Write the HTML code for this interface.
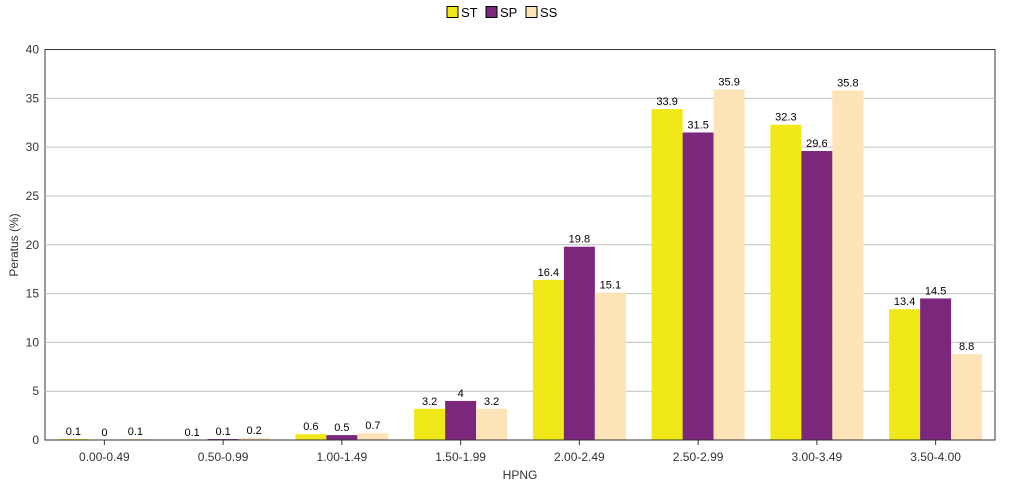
<!DOCTYPE html>
<html><head><meta charset="utf-8"><style>
body{margin:0;background:#fff;font-family:"Liberation Sans",sans-serif;}
</style></head><body>
<svg width="1016" height="488" xmlns="http://www.w3.org/2000/svg" font-family="Liberation Sans, sans-serif" font-size="12">
<g id="legend"></g>
<g id="grid"></g>
<g id="bars"></g>
<g id="axes"></g>
</svg>
<script>
const categories=["0.00-0.49","0.50-0.99","1.00-1.49","1.50-1.99","2.00-2.49","2.50-2.99","3.00-3.49","3.50-4.00"];
const seriesNames=["ST","SP","SS"];
const stValues=[0.1,0,0.6,3.2,16.4,33.9,32.3,13.4];
const spValues=[0,0.1,0.5,4,19.8,31.5,29.6,14.5];
const ssValues=[0.1,0.2,0.7,3.2,15.1,35.9,35.8,8.8];
const stLabels=["0.1","0.1","0.6","3.2","16.4","33.9","32.3","13.4"];
const spLabels=["0","0.1","0.5","4","19.8","31.5","29.6","14.5"];
const ssLabels=["0.1","0.2","0.7","3.2","15.1","35.9","35.8","8.8"];
const yTicks=[0,5,10,15,20,25,30,35,40];
const NS="http://www.w3.org/2000/svg";
const L=45,R=995,T=49.5,B=440,YMAX=40;
const colors=["#f0e818","#7b287c","#fde3b8"];
function y(v){return B-(v/YMAX)*(B-T);}
const cw=(R-L)/categories.length;
function cx(i){return L+cw*(i+0.5);}
function mk(tag,attrs,parent){const e=document.createElementNS(NS,tag);for(const k in attrs)e.setAttribute(k,attrs[k]);parent.appendChild(e);return e;}
const grid=document.getElementById('grid'),bars=document.getElementById('bars'),axes=document.getElementById('axes'),legend=document.getElementById('legend');
mk('rect',{x:L,y:T,width:R-L,height:B-T,fill:'#fff',stroke:'#333','stroke-width':1},grid);
yTicks.forEach(t=>{
 if(t>0&&t<YMAX){const g=mk('line',{x1:L,x2:R,y1:y(t),y2:y(t),stroke:'#c0c0c0'},grid);
 
 }
 const tx=mk('text',{x:L-6,y:y(t)+4,'text-anchor':'end','font-size':12,fill:'#333'},axes);
 tx.textContent=t;
 
 
});
const all=[stValues,spValues,ssValues],labs=[stLabels,spLabels,ssLabels];
const bw=31;
categories.forEach((c,i)=>{
 all.forEach((vals,s)=>{
  const x=cx(i)-bw*1.5+bw*s;
  const r=mk('rect',{x:x,y:y(vals[i]),width:bw,height:B-y(vals[i]),fill:colors[s]},bars);
  
  
  const t=mk('text',{x:x+bw/2,y:y(vals[i])-4,'text-anchor':'middle','font-size':11,fill:'#000'},bars);
  t.textContent=labs[s][i];
  
  
 });
 mk('line',{x1:cx(i),x2:cx(i),y1:B,y2:B+5,stroke:'#333'},axes);
 const t=mk('text',{x:cx(i),y:B+21,'text-anchor':'middle','font-size':12,fill:'#333'},axes);
 t.textContent=c;
 
 
});
mk('line',{x1:L,x2:R,y1:B,y2:B,stroke:'#333'},axes);
const xt=mk('text',{x:(L+R)/2,y:479,'text-anchor':'middle','font-size':12,fill:'#333'},axes);
xt.textContent='HPNG';


const yt=mk('text',{x:0,y:0,'text-anchor':'middle','font-size':12,fill:'#333',transform:'translate(18,245) rotate(-90)'},axes);
yt.textContent='Peratus (%)';


const lx=[447,486,526];
seriesNames.forEach((n,s)=>{
 const r=mk('rect',{x:lx[s],y:6.5,width:11,height:11,fill:colors[s],stroke:'#000'},legend);
 
 
 const t=mk('text',{x:lx[s]+14,y:17,'font-size':13,fill:'#000'},legend);
 t.textContent=n;
 
 
});
</script>
</body></html>
